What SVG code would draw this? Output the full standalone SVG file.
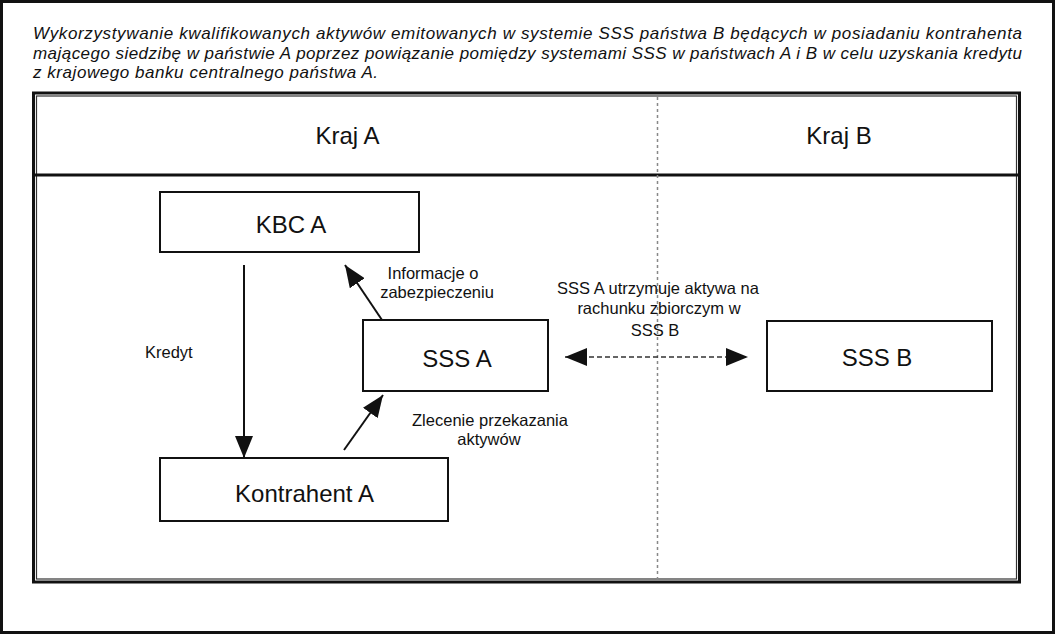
<svg xmlns="http://www.w3.org/2000/svg" width="1055" height="634" viewBox="0 0 1055 634">
<style>
.title{font-family:"Liberation Sans",Arial,sans-serif;font-style:italic;font-size:17px;fill:#111}
.big{font-family:"Liberation Sans",Arial,sans-serif;font-size:24px;fill:#111;text-anchor:middle}
.lbl{font-family:"Liberation Sans",Arial,sans-serif;font-size:16.5px;fill:#111;text-anchor:middle}
.box{fill:#fff;stroke:#111;stroke-width:2}
.conn{stroke:#111;stroke-width:2;fill:none}
.dash{stroke:#333;stroke-width:1.5;stroke-dasharray:5 3;fill:none}
</style>
<defs>
<marker id="arr" viewBox="0 0 22 18" refX="22" refY="9" markerWidth="22" markerHeight="18" markerUnits="userSpaceOnUse" orient="auto-start-reverse">
<path d="M0,0 L22,9 L0,18 z" fill="#111"/>
</marker>
</defs>
<rect x="0" y="0" width="1055" height="634" fill="#fff"/>
<rect x="1.5" y="1.5" width="1052" height="631" fill="none" stroke="#111" stroke-width="3"/>
<g id="title">
<text class="title" x="33" y="39" textLength="989" lengthAdjust="spacing">Wykorzystywanie kwalifikowanych aktywów emitowanych w systemie SSS państwa B będących w posiadaniu kontrahenta</text>
<text class="title" x="33" y="58.5" textLength="989" lengthAdjust="spacing">mającego siedzibę w państwie A poprzez powiązanie pomiędzy systemami SSS w państwach A i B w celu uzyskania kredytu</text>
<text class="title" x="33" y="78" textLength="345" lengthAdjust="spacing">z krajowego banku centralnego państwa A.</text>
</g>
<g id="frame">
<rect x="33.5" y="93" width="986" height="489" fill="none" stroke="#111" stroke-width="3"/>
<rect x="36.5" y="96" width="980" height="483" fill="none" stroke="#333" stroke-width="1.2"/>
<line x1="33.5" y1="175" x2="1019.5" y2="175" stroke="#111" stroke-width="3"/>
<line x1="657.5" y1="97" x2="657.5" y2="580" stroke="#888" stroke-width="1.5" stroke-dasharray="3 3"/>
<text class="big" x="347.5" y="143.5">Kraj A</text>
<text class="big" x="839" y="143.5">Kraj B</text>
</g>
<g id="kbc-a">
<rect class="box" x="160" y="192" width="259" height="60"/>
<text class="big" x="291" y="233">KBC A</text>
</g>
<g id="kontrahent-a">
<rect class="box" x="160" y="458" width="288" height="63"/>
<text class="big" x="304.5" y="501.5">Kontrahent A</text>
</g>
<g id="sss-a">
<rect class="box" x="363" y="320" width="185" height="71"/>
<text class="big" x="457" y="367">SSS A</text>
</g>
<g id="sss-b">
<rect class="box" x="767" y="321" width="225" height="70"/>
<text class="big" x="877" y="366">SSS B</text>
</g>
<g id="connectors">
<line class="conn" x1="244" y1="265" x2="244" y2="458" marker-end="url(#arr)"/>
<line class="conn" x1="382" y1="320" x2="345" y2="265" marker-end="url(#arr)"/>
<line class="conn" x1="344" y1="450" x2="383" y2="395" marker-end="url(#arr)"/>
<line class="dash" x1="565" y1="357" x2="748" y2="357" marker-start="url(#arr)" marker-end="url(#arr)"/>
<text class="lbl" x="145" y="358" style="text-anchor:start">Kredyt</text>
<text class="lbl" x="433" y="279">Informacje o</text>
<text class="lbl" x="437" y="297.5">zabezpieczeniu</text>
<text class="lbl" x="658" y="294">SSS A utrzymuje aktywa na</text>
<text class="lbl" x="659" y="314">rachunku zbiorczym w</text>
<text class="lbl" x="655" y="336">SSS B</text>
<text class="lbl" x="490" y="426">Zlecenie przekazania</text>
<text class="lbl" x="489" y="445">aktywów</text>
</g>
</svg>
